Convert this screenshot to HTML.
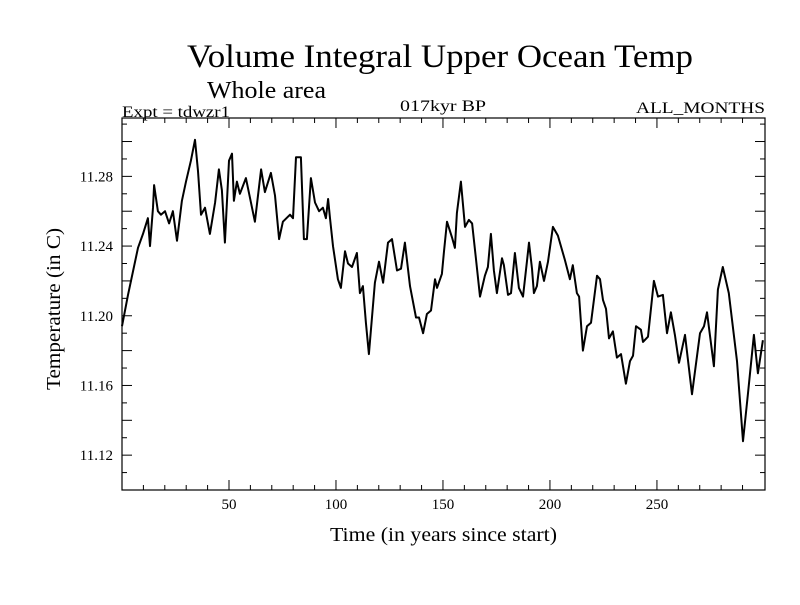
<!DOCTYPE html>
<html><head><meta charset="utf-8"><style>
body{margin:0;background:#fff}
svg text{font-family:"Liberation Serif",serif;fill:#000}
</style></head><body>
<svg width="800" height="600" xmlns="http://www.w3.org/2000/svg">
<text x="187" y="67" font-size="33" textLength="506" lengthAdjust="spacingAndGlyphs">Volume Integral Upper Ocean Temp</text>
<text x="207" y="98" font-size="24" textLength="119" lengthAdjust="spacingAndGlyphs">Whole area</text>
<text x="122" y="117" font-size="16" textLength="108" lengthAdjust="spacingAndGlyphs">Expt = tdwzr1</text>
<text x="400" y="111" font-size="16" textLength="86" lengthAdjust="spacingAndGlyphs">017kyr BP</text>
<text x="636" y="113" font-size="16" textLength="129" lengthAdjust="spacingAndGlyphs">ALL_MONTHS</text>
<text x="330" y="541" font-size="20" textLength="227" lengthAdjust="spacingAndGlyphs">Time (in years since start)</text>
<text transform="translate(60,390) rotate(-90)" font-size="20" textLength="162" lengthAdjust="spacingAndGlyphs">Temperature (in C)</text>
<g id="axes"></g>
<rect x="122" y="118" width="643" height="372" fill="none" stroke="#000" stroke-width="1.2"/>
<path id="line" fill="none" stroke="#000" stroke-width="2" stroke-linejoin="round"/>
</svg>
<script>
const years=[0,2.8,7.5,9.8,12.1,13.1,14.5,15,16.8,18.2,20.1,22,23.8,25.7,28,29.9,32.2,34.1,35.5,36.9,38.8,41.1,43.5,45.3,46.7,48.1,50,51.4,52.3,53.7,55.1,57.9,62.1,65,66.8,69.6,71.5,73.4,75.2,78.5,79.9,81.3,83.6,85,86.4,88.3,90.2,92.1,93.9,95.3,96.3,97.2,98.6,100.9,102.3,104.2,105.6,107.5,109.8,111.2,112.6,114,115.4,118.2,120.1,122,124.3,126.2,128.5,130.4,132.2,134.6,137.4,138.8,140.7,142.5,144.4,146.3,147.2,149.5,150.5,151.9,154.2,155.6,156.5,158.4,160.3,162.1,163.6,165.4,167.3,169.6,171,172.4,173.8,175.2,177.6,178.5,180.4,181.8,183.6,185.5,187.4,189.3,190.2,191.6,192.5,193.9,195.3,197.2,199.1,201.4,203.7,207,209.3,210.7,212.6,213.6,215.4,217.3,219.2,222,223.4,224.8,226.2,227.6,229.4,231.3,233.2,235.5,237.4,238.8,240.2,242.5,243.5,245.8,248.6,250.5,252.8,254.7,256.5,258.4,260.3,263.1,266.4,270.1,272,273.4,276.6,278.5,280.8,283.6,287.4,290.2,292.5,295.3,297.2,299.5];
const temps=[11.194,11.212,11.239,11.247,11.256,11.240,11.262,11.275,11.260,11.258,11.260,11.253,11.260,11.243,11.266,11.277,11.289,11.301,11.283,11.258,11.262,11.247,11.265,11.284,11.272,11.242,11.289,11.293,11.266,11.277,11.270,11.279,11.254,11.284,11.271,11.282,11.269,11.244,11.254,11.258,11.256,11.291,11.291,11.244,11.244,11.279,11.265,11.260,11.262,11.256,11.267,11.256,11.240,11.221,11.216,11.237,11.230,11.228,11.236,11.213,11.217,11.196,11.178,11.219,11.231,11.219,11.242,11.244,11.226,11.227,11.242,11.217,11.199,11.199,11.190,11.201,11.203,11.221,11.216,11.224,11.237,11.254,11.245,11.239,11.259,11.277,11.251,11.255,11.253,11.233,11.211,11.223,11.228,11.247,11.226,11.213,11.233,11.229,11.212,11.213,11.236,11.216,11.211,11.232,11.242,11.227,11.213,11.217,11.231,11.220,11.231,11.251,11.246,11.232,11.221,11.229,11.213,11.211,11.180,11.194,11.196,11.223,11.221,11.209,11.204,11.187,11.191,11.176,11.178,11.161,11.174,11.177,11.194,11.192,11.185,11.188,11.220,11.211,11.212,11.190,11.202,11.189,11.173,11.189,11.155,11.190,11.194,11.202,11.171,11.215,11.228,11.213,11.174,11.128,11.155,11.189,11.167,11.186];
const xTickLabels=[50,100,150,200,250];
const yTickLabels=["11.12","11.16","11.20","11.24","11.28"];
const X0=122,X1=765,Y0=490,Y1=118,XMIN=0,XMAX=300.5,YMIN=11.10,YMAX=11.3135;
const sx=v=>X0+(v-XMIN)/(XMAX-XMIN)*(X1-X0);
const sy=v=>Y0-(v-YMIN)/(YMAX-YMIN)*(Y0-Y1);
const NS="http://www.w3.org/2000/svg";
const axes=document.getElementById('axes');
function ln(x1,y1,x2,y2,name){const l=document.createElementNS(NS,'line');l.setAttribute('x1',x1);l.setAttribute('y1',y1);l.setAttribute('x2',x2);l.setAttribute('y2',y2);l.setAttribute('stroke','#000');l.setAttribute('stroke-width','1');


axes.appendChild(l);}
for(let v=10;v<300;v+=10){const x=sx(v);const L=v%50===0?10:5;ln(x,Y0,x,Y0-L,'x-tick');ln(x,Y1,x,Y1+L,'x-tick-top');}
for(let k=1;k<=21;k++){const v=11.10+k*0.01;if(v>YMAX)break;const y=sy(v);const L=k%2===0?10:5;ln(X0,y,X0+L,y,'y-tick');ln(X1,y,X1-L,y,'y-tick-right');}
xTickLabels.forEach(v=>{const t=document.createElementNS(NS,'text');t.setAttribute('x',sx(v));t.setAttribute('y',509);t.setAttribute('font-size','15');t.setAttribute('text-anchor','middle');t.textContent=v;


axes.appendChild(t);});
yTickLabels.forEach(v=>{const t=document.createElementNS(NS,'text');t.setAttribute('x',113);t.setAttribute('y',sy(+v)+5);t.setAttribute('font-size','15');t.setAttribute('text-anchor','end');t.textContent=v;


axes.appendChild(t);});
document.getElementById('line').setAttribute('d',years.map((y,i)=>(i?'L':'M')+sx(y).toFixed(1)+','+sy(temps[i]).toFixed(1)).join(''));
</script>
</body></html>
